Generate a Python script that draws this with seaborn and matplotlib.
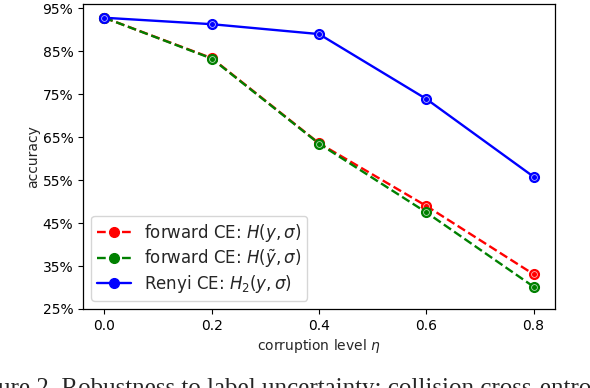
import matplotlib
matplotlib.use("Agg")
import matplotlib.pyplot as plt
import seaborn as sns
from matplotlib.ticker import PercentFormatter

sns.set_style("ticks")
plt.rcParams['font.family'] = ['DejaVu Sans']
plt.rcParams['mathtext.fontset'] = 'dejavusans'

eta = [0.0, 0.2, 0.4, 0.6, 0.8]
forward_ce = [0.928, 0.834, 0.636, 0.490, 0.331]
forward_ce_tilde = [0.928, 0.833, 0.635, 0.475, 0.302]
renyi_ce = [0.928, 0.913, 0.890, 0.739, 0.558]
labels = [r"forward CE: $H(y,\sigma)$",
          r"forward CE: $H(\tilde{y},\sigma)$",
          r"Renyi CE: $H_2(y,\sigma)$"]
yticks = [0.25, 0.35, 0.45, 0.55, 0.65, 0.75, 0.85, 0.95]
xticks = [0.0, 0.2, 0.4, 0.6, 0.8]

fig = plt.figure(figsize=(5.9, 3.88), dpi=100)
ax = fig.add_axes([83/590, 1-309/388, (555-83)/590, (309-4)/388])

series = [(forward_ce, 'red', '--'), (forward_ce_tilde, 'green', '--'), (renyi_ce, 'blue', '-')]
for (vals, col, ls), lab in zip(series, labels):
    sns.lineplot(x=eta, y=vals, ax=ax, color=col, linestyle=ls, linewidth=1.7,
                 marker='o', markersize=7, markerfacecolor=col, markeredgecolor=col,
                 markeredgewidth=1.0, label=lab)
    ax.plot(eta, vals, linestyle='none', marker='o', markersize=4.2,
            markerfacecolor='none', markeredgecolor='white', markeredgewidth=0.6, alpha=0.7)

ax.set_xlim(-0.04, 0.84)
ax.set_ylim(0.25, 0.96)
ax.set_xticks(xticks)
ax.set_yticks(yticks)
ax.yaxis.set_major_formatter(PercentFormatter(1.0, decimals=0))
ax.tick_params(labelsize=10, length=3.5, width=0.8, colors='black')
for s in ax.spines.values():
    s.set_visible(True)
    s.set_color('black')
    s.set_linewidth(0.9)
ax.set_xlabel(r"corruption level $\eta$", fontsize=10, labelpad=3)
ax.set_ylabel("accuracy", fontsize=10, labelpad=2)
ax.grid(False)

leg = ax.legend(loc='lower left', fontsize=12, frameon=True, borderpad=0.35,
                handlelength=2.0, labelspacing=0.2, bbox_to_anchor=(0.0, 0.0))
leg.get_frame().set_edgecolor('#cccccc')

fig.text(-0.004, -0.019, "ure 2. Robustness to label uncertainty: collision cross-entropy",
         family='Liberation Serif', fontsize=18, va='baseline', ha='left')

fig.savefig("out.png", dpi=100)
